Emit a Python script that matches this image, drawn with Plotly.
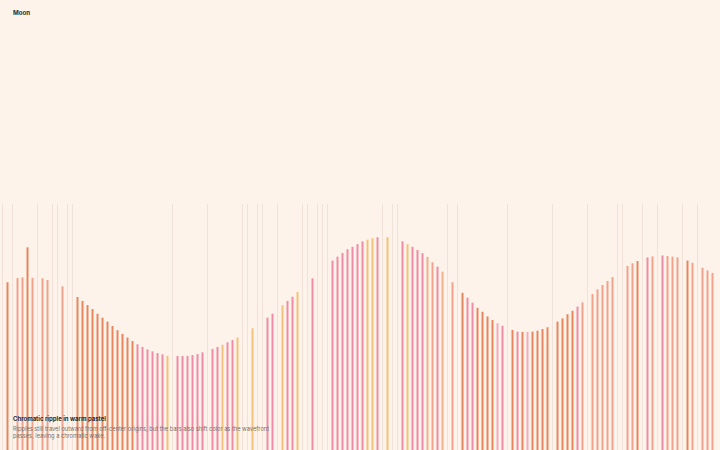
import plotly.graph_objects as go

# Données : hauteur des barres (100 = plafond des traits gris)
# None = créneau vide, marqué seulement par un trait gris
valeurs = [
    None, 68.2, None, 69.9, 70.2, 82.4, 70.0, None, 69.8, 69.1,
    None, None, 66.5, None, None, 62.2, 60.6, 58.9, 57.3, 55.4,
    53.8, 52.2, 50.4, 48.7, 47.2, 45.7, 44.3, 43.0, 41.9, 40.9,
    40.1, 39.4, 38.9, 38.3, None, 38.2, 38.2, 38.2, 38.6, 39.0,
    39.7, None, 41.1, 41.9, 42.8, 43.8, 44.7, 45.7, None, None,
    49.5, None, None, 53.8, 55.4, None, 58.9, 60.6, 62.3, 64.2,
    None, None, 69.8, None, None, None, 77.0, 78.6, 80.1, 81.6,
    82.6, 83.7, 84.8, 85.5, 86.1, 86.5, None, 86.5, None, None,
    84.8, 83.7, 82.6, 81.3, 80.0, 78.5, 76.3, 74.5, 72.5, None,
    68.2, None, 63.9, 61.9, 59.9, 57.8, 56.2, 54.3, 52.8, 51.5,
    50.5, None, 48.8, 48.1, 48.0, 48.0, 48.1, 48.5, 49.2, 49.9,
    None, 52.2, 53.5, 55.2, 56.6, 58.3, 60.0, None, 63.4, 65.3,
    67.1, 68.7, 70.3, None, None, 74.8, 75.9, 76.8, None, 78.3,
    78.7, None, 79.1, 78.9, 78.6, 78.3, None, 77.0, 76.1, None,
    74.1, 73.0, 72.0,
]

# Teinte de chaque barre (O corail, S saumon, P rose, G or, T pêche, L rose pâle)
teintes = [
    "-", "O", "-", "S", "S", "O", "S", "-", "S", "S",
    "-", "-", "S", "-", "-", "O", "O", "O", "O", "O",
    "O", "O", "O", "O", "O", "O", "O", "P", "P", "P",
    "P", "P", "P", "G", "-", "P", "P", "P", "P", "P",
    "P", "-", "P", "P", "G", "P", "P", "G", "-", "-",
    "G", "-", "-", "P", "P", "-", "G", "P", "P", "G",
    "-", "-", "P", "-", "-", "-", "P", "P", "P", "P",
    "P", "P", "P", "G", "G", "P", "-", "G", "-", "-",
    "P", "G", "P", "P", "P", "T", "S", "P", "T", "-",
    "S", "-", "O", "P", "P", "O", "O", "O", "O", "L",
    "P", "-", "O", "P", "O", "L", "O", "O", "O", "O",
    "-", "O", "O", "O", "O", "P", "S", "-", "S", "S",
    "S", "S", "S", "-", "-", "S", "S", "O", "-", "P",
    "S", "-", "P", "S", "S", "S", "-", "O", "S", "-",
    "S", "S", "S",
]

palette = {"O": "#e5865f", "S": "#efa28c", "P": "#ee8ca8",
           "G": "#f2c27c", "T": "#efb08c", "L": "#f2aabd", "-": "#f0e2d8"}

plafond = 100
fond = "#fdf3ea"

x = list(range(len(valeurs)))
couleurs = [palette[t] for t in teintes]
traits = [plafond if v is None else None for v in valeurs]

fig = go.Figure()

# Traits gris des créneaux vides
fig.add_trace(go.Bar(x=x, y=traits, width=0.18,
                     marker=dict(color=palette["-"], line=dict(width=0)),
                     hoverinfo="skip"))

# Barres colorées
fig.add_trace(go.Bar(x=x, y=valeurs, width=0.4,
                     marker=dict(color=couleurs, line=dict(width=0))))

fig.update_layout(
    width=720, height=450,
    margin=dict(l=0, r=0, t=0, b=0),
    paper_bgcolor=fond, plot_bgcolor=fond,
    barmode="overlay", showlegend=False,
    font=dict(family="Inter, Roboto, sans-serif"),
)
fig.update_xaxes(visible=False, range=[-0.5, 143.5])
fig.update_yaxes(visible=False, range=[0, plafond * 450 / 246])

# Titre et légende
x_texte = 10.5 / 720
fig.add_annotation(text="<b>Moon</b>", xref="paper", yref="paper",
                   x=x_texte, y=1 - 13 / 450, xanchor="left", yanchor="middle",
                   showarrow=False, font=dict(size=6.2, color="#2b2a2a"))
fig.add_annotation(text="<b>Chromatic ripple in warm pastel</b>",
                   xref="paper", yref="paper",
                   x=x_texte, y=1 - 418.5 / 450, xanchor="left", yanchor="middle",
                   showarrow=False, font=dict(size=6.0, color="#2b2a2a"))
fig.add_annotation(text="Ripples still travel outward from off-center origins, but the bars also shift color as the wavefront",
                   xref="paper", yref="paper",
                   x=x_texte, y=1 - 428.5 / 450, xanchor="left", yanchor="middle",
                   showarrow=False, font=dict(size=5.7, color="#7a706a"))
fig.add_annotation(text="passes, leaving a chromatic wake.",
                   xref="paper", yref="paper",
                   x=x_texte, y=1 - 436 / 450, xanchor="left", yanchor="middle",
                   showarrow=False, font=dict(size=5.7, color="#7a706a"))

# Page sans marge ni barre d'outils pour que la figure occupe toute la fenêtre
fig.write_html("out.html", config={"displayModeBar": False},
               post_script="document.body.style.margin='0';")
